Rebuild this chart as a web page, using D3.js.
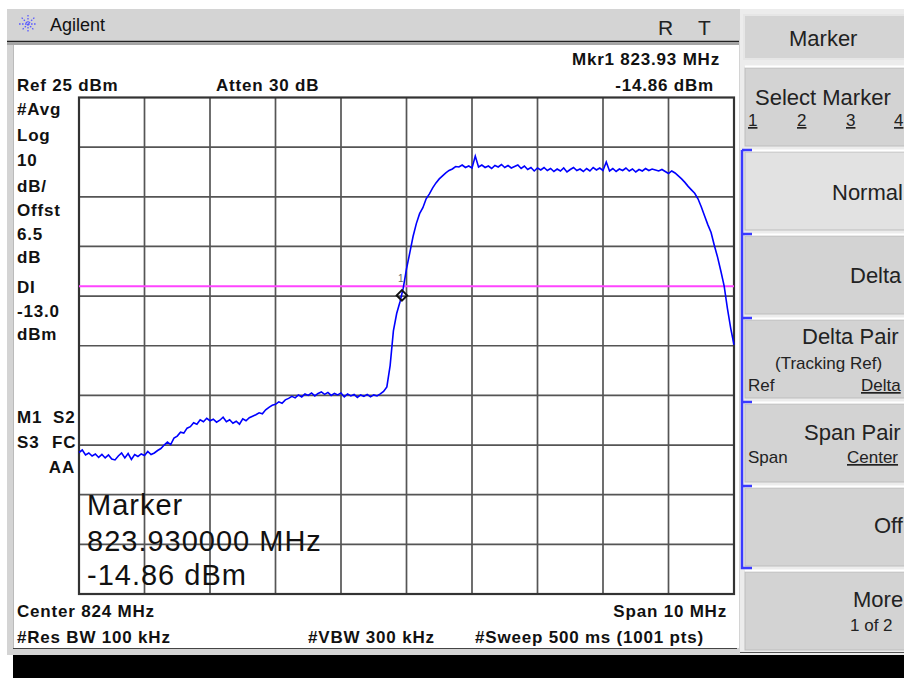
<!DOCTYPE html>
<html><head><meta charset="utf-8">
<script src="https://cdn.jsdelivr.net/npm/d3@7"></script>
<style>
html,body{margin:0;padding:0;background:#fff;}
svg{display:block;}
text{font-family:"Liberation Sans",Arial,sans-serif;}
</style></head>
<body>
<script>
// ---- Instrument settings ----
const startMHz = 819, stopMHz = 829;          // Center 824 MHz, Span 10 MHz
const refLevelDbm = 25, dbPerDiv = 10, numDivs = 10;
const displayLineDbm = -13.0;
const markerFreqMHz = 823.93;
const markerDbm = -14.86;
const traceStepMHz = 0.05;

// ---- Trace values (dBm), one every 0.05 MHz from 819 MHz ----
const traceDbm = [
 -46.5,-46.0,-47.0,-46.6,-47.2,-46.8,-47.5,-46.9,-47.6,-47.0,
 -47.8,-48.0,-47.2,-46.6,-47.6,-46.7,-47.9,-46.9,-47.3,-46.8,
 -47.1,-46.3,-46.9,-46.6,-46.1,-45.7,-45.0,-44.4,-44.9,-43.6,
 -43.2,-42.4,-42.6,-41.6,-41.3,-40.5,-40.8,-39.9,-40.3,-39.6,
 -40.1,-39.8,-40.4,-40.0,-39.4,-40.3,-39.9,-40.6,-40.2,-40.8,
 -39.7,-40.1,-39.5,-39.2,-38.9,-38.5,-38.7,-37.9,-37.4,-37.0,
 -36.8,-36.3,-36.6,-35.9,-35.6,-35.2,-35.5,-34.9,-35.3,-34.7,
 -35.0,-34.5,-35.1,-34.6,-34.3,-34.8,-34.4,-35.0,-34.6,-34.9,
 -34.5,-35.3,-34.7,-35.1,-34.8,-35.4,-34.9,-35.2,-34.8,-35.3,
 -34.9,-35.1,-34.7,-34.2,-33.3,-29.0,-22.0,-18.5,-16.2,-13.4,
 -9.5,-6.3,-3.0,-0.4,1.6,2.8,4.6,5.6,6.8,7.8,
 8.6,9.2,9.8,10.3,10.6,11.1,11.0,11.4,10.9,11.2,
 10.8,13.2,11.0,11.4,10.9,11.2,10.7,11.3,11.0,11.5,
 10.9,11.3,10.8,11.1,11.4,10.7,11.2,10.5,10.9,10.2,
 10.8,10.4,10.9,10.3,10.7,10.1,10.6,10.2,10.8,10.0,
 10.5,10.9,10.3,10.6,10.1,10.7,10.2,10.9,10.4,10.8,
 10.3,12.0,10.2,10.7,10.1,10.6,10.3,10.8,10.2,10.6,
 10.0,10.5,10.2,10.7,10.3,10.6,10.4,10.2,10.5,10.1,
 9.7,10.2,9.8,9.2,8.6,7.9,7.1,6.4,5.7,4.6,
 3.0,1.2,-0.6,-2.2,-4.8,-7.2,-10.0,-13.0,-17.5,-21.5,
 -24.8
];

// ---- Annotation texts ----
const leftLabels = [["#Avg",115],["Log",141],["10",166],["dB/",192],["Offst",216],["6.5",240],["dB",263],["DI",293],["-13.0",317],["dBm",340]];
const statusLabels = [["M1",17,423],["S2",53,423],["S3",17,448],["FC",52,448]];
const softkeys = [
  {y:68, label:"Select Marker", fill:"#d3d3d3"},
  {y:152, label:"Normal", fill:"#e2e2e2"},
  {y:236, label:"Delta", fill:"#d3d3d3"},
  {y:320, label:"Delta Pair", fill:"#d3d3d3"},
  {y:404, label:"Span Pair", fill:"#d3d3d3"},
  {y:488, label:"Off", fill:"#d3d3d3"},
  {y:572, label:"More", fill:"#d3d3d3"}
];

const W = 904, H = 678;
const svg = d3.select("body").append("svg").attr("width", W).attr("height", H);

// frame
svg.append("rect").attr("width", W).attr("height", H).attr("fill", "#fff");
svg.append("rect").attr("x", 7).attr("y", 9).attr("width", 733).attr("height", 646).attr("fill", "#d4d4d4");
svg.append("rect").attr("x", 740).attr("y", 9).attr("width", 164).attr("height", 646).attr("fill", "#ececec");
// header lines
svg.append("line").attr("x1", 7).attr("x2", 739).attr("y1", 41.5).attr("y2", 41.5).attr("stroke", "#222").attr("stroke-width", 1.6);
svg.append("line").attr("x1", 7).attr("x2", 739).attr("y1", 44).attr("y2", 44).attr("stroke", "#777").attr("stroke-width", 1);
// display panel
svg.append("rect").attr("x", 14).attr("y", 45).attr("width", 725).attr("height", 603).attr("fill", "#fff");
svg.append("line").attr("x1", 13.5).attr("x2", 13.5).attr("y1", 45).attr("y2", 648).attr("stroke", "#bbb");
svg.append("line").attr("x1", 13).attr("x2", 737).attr("y1", 648.5).attr("y2", 648.5).attr("stroke", "#444");
svg.append("line").attr("x1", 740).attr("x2", 904).attr("y1", 652.5).attr("y2", 652.5).attr("stroke", "#555");
// bottom black bar
svg.append("rect").attr("x", 13).attr("y", 655).attr("width", W - 13).attr("height", 23).attr("fill", "#000");

// header: logo + Agilent
const logo = svg.append("g").attr("transform", "translate(28,24)");
[0, 45, 90, 135].forEach(a => {
  logo.append("line").attr("x1", -9).attr("x2", 9).attr("y1", 0).attr("y2", 0)
    .attr("transform", `rotate(${a})`).attr("stroke", "#5a5aff").attr("stroke-width", 1.3)
    .attr("stroke-dasharray", "1.6,1.4");
});
svg.append("text").attr("x", 50).attr("y", 31).attr("font-size", 18).attr("fill", "#111").text("Agilent");
svg.append("text").attr("x", 658).attr("y", 35).attr("font-size", 21).attr("fill", "#222").text("R");
svg.append("text").attr("x", 698).attr("y", 35).attr("font-size", 21).attr("fill", "#222").text("T");

// softkeys
svg.append("rect").attr("x", 744).attr("y", 15).attr("width", 165).attr("height", 44)
  .attr("fill", "#d4d4d4").attr("stroke", "#e6e6e6").attr("stroke-width", 2);
svg.append("text").attr("x", 789).attr("y", 46).attr("font-size", 22).attr("fill", "#222").text("Marker");
softkeys.forEach(k => {
  svg.append("rect").attr("x", 745).attr("y", k.y).attr("width", 165).attr("height", 78)
    .attr("fill", k.fill).attr("stroke", "#bdbdbd").attr("stroke-width", 1);
  svg.append("line").attr("x1", 745).attr("x2", 904).attr("y1", k.y - 1.5).attr("y2", k.y - 1.5).attr("stroke", "#fff").attr("stroke-width", 2);
});
const sk = (x, y, t, size, underline) => svg.append("text").attr("x", x).attr("y", y).attr("font-size", size)
  .attr("fill", "#222").attr("text-decoration", underline ? "underline" : null).text(t);
sk(755, 105, "Select Marker", 22);
sk(748, 126, "1", 17, true); sk(797, 126, "2", 17, true); sk(846, 126, "3", 17, true); sk(894, 126, "4", 17, true);
sk(832, 200, "Normal", 22);
sk(850, 283, "Delta", 22);
sk(802, 344, "Delta Pair", 22);
sk(775, 369, "(Tracking Ref)", 17);
sk(748, 391, "Ref", 17); sk(861, 391, "Delta", 17, true);
sk(804, 440, "Span Pair", 22);
sk(748, 463, "Span", 17); sk(847, 463, "Center", 17, true);
sk(874, 533, "Off", 22);
sk(853, 607, "More", 22);
sk(850, 631, "1 of 2", 17);

// blue bracket on active key group
const bx = 742, tickTops = [150, 234, 318, 402, 486];
let bp = `M${bx},${tickTops[0]}V568H752`;
tickTops.forEach(t => { bp += `M${bx},${t}H752`; });
svg.append("path").attr("d", bp).attr("fill", "none").attr("stroke", "#3a3aff").attr("stroke-width", 2.5);

// ---- scales ----
const x = d3.scaleLinear().domain([startMHz, stopMHz]).range([79, 734]);
const yBottom = refLevelDbm - dbPerDiv * numDivs;
const y = d3.scaleLinear().domain([yBottom, refLevelDbm]).range([594, 97.5]);

// grid
const g = svg.append("g");
const xGrid = d3.range(numDivs + 1).map(i => startMHz + i * (stopMHz - startMHz) / numDivs);
const yGrid = d3.range(numDivs + 1).map(i => yBottom + i * dbPerDiv);
g.selectAll(".vx").data(xGrid.slice(1, -1)).join("line")
  .attr("x1", d => x(d)).attr("x2", d => x(d)).attr("y1", y(refLevelDbm)).attr("y2", y(yBottom))
  .attr("stroke", "#555").attr("stroke-width", 1.7);
g.selectAll(".hy").data(yGrid.slice(1, -1)).join("line")
  .attr("y1", d => y(d)).attr("y2", d => y(d)).attr("x1", x(startMHz)).attr("x2", x(stopMHz))
  .attr("stroke", "#555").attr("stroke-width", 1.7);
g.append("rect").attr("x", x(startMHz)).attr("y", y(refLevelDbm))
  .attr("width", x(stopMHz) - x(startMHz)).attr("height", y(yBottom) - y(refLevelDbm))
  .attr("fill", "none").attr("stroke", "#333").attr("stroke-width", 2.2);

// big marker readout (drawn over grid)
const big = [["Marker", 515], ["823.930000 MHz", 551], ["-14.86 dBm", 585]];
big.forEach(([t, yy]) => svg.append("text").attr("x", 87).attr("y", yy).attr("font-size", 29)
  .attr("letter-spacing", 1).attr("fill", "#111").text(t));

// display line
svg.append("line").attr("x1", x(startMHz)).attr("x2", x(stopMHz))
  .attr("y1", y(displayLineDbm)).attr("y2", y(displayLineDbm))
  .attr("stroke", "#ff44ff").attr("stroke-width", 2);

// trace
const pts = traceDbm.map((v, i) => [startMHz + i * traceStepMHz, v]);
svg.append("path").datum(pts)
  .attr("d", d3.line().x(d => x(d[0])).y(d => y(d[1])))
  .attr("fill", "none").attr("stroke", "#0000ff").attr("stroke-width", 1.6);

// marker diamond
const mx = x(markerFreqMHz), my = y(markerDbm);
svg.append("path").attr("d", d3.symbol(d3.symbolDiamond2, 70)())
  .attr("transform", `translate(${mx},${my})`).attr("fill", "none").attr("stroke", "#111").attr("stroke-width", 2);
svg.append("text").attr("x", mx - 4).attr("y", my - 13).attr("font-size", 10).attr("fill", "#666").text("1");

// bold annotations
const bold = (xx, yy, t, anchor) => svg.append("text").attr("x", xx).attr("y", yy).attr("font-size", 17)
  .attr("font-weight", "bold").attr("letter-spacing", 0.8).attr("fill", "#111")
  .attr("text-anchor", anchor || "start").text(t);
bold(17, 91, "Ref 25 dBm");
bold(216, 91, "Atten 30 dB");
bold(720, 65, "Mkr1 823.93 MHz", "end");
bold(714, 91, "-14.86 dBm", "end");
leftLabels.forEach(([t, yy]) => bold(17, yy, t));
statusLabels.forEach(([t, xx, yy]) => bold(xx, yy, t));
bold(75, 473, "AA", "end");
bold(17, 617, "Center 824 MHz");
bold(17, 643, "#Res BW 100 kHz");
bold(308, 643, "#VBW 300 kHz");
bold(727, 617, "Span 10 MHz", "end");
bold(475, 643, "#Sweep 500 ms (1001 pts)");
</script>
</body></html>
